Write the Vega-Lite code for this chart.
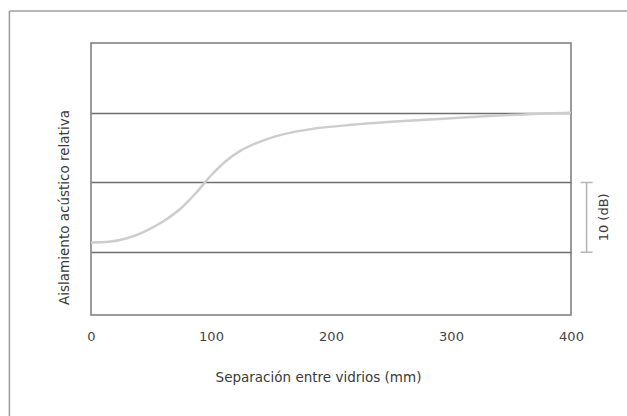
{
  "$schema": "https://vega.github.io/schema/vega-lite/v6.json",
  "width": 480,
  "height": 272,
  "autosize": "none",
  "padding": {"left": 91, "top": 43, "right": 56, "bottom": 101},
  "background": "white",
  "config": {
    "view": {"stroke": "#7a7a7a", "strokeWidth": 1.5},
    "font": "DejaVu Sans"
  },
  "datasets": {
    "curve": [
      {"sep": 0, "db": 11.4},
      {"sep": 15, "db": 11.5},
      {"sep": 30, "db": 12.0},
      {"sep": 45, "db": 13.0},
      {"sep": 60, "db": 14.4},
      {"sep": 75, "db": 16.3},
      {"sep": 88, "db": 18.6},
      {"sep": 100, "db": 21.0},
      {"sep": 112, "db": 23.0},
      {"sep": 125, "db": 24.6},
      {"sep": 140, "db": 25.8},
      {"sep": 160, "db": 26.9},
      {"sep": 185, "db": 27.7},
      {"sep": 220, "db": 28.3},
      {"sep": 260, "db": 28.8},
      {"sep": 300, "db": 29.2},
      {"sep": 340, "db": 29.6},
      {"sep": 380, "db": 29.9},
      {"sep": 400, "db": 30.0}
    ],
    "scale_bar": [{"low": 10, "high": 20, "label": "10 (dB)"}],
    "border": [{"left": -68, "right": 450, "top": 44.6, "bottom": -15}]
  },
  "layer": [
    {
      "data": {"name": "curve"},
      "mark": {"type": "line", "interpolate": "monotone", "color": "#cdcdcd", "strokeWidth": 2.5},
      "encoding": {
        "x": {
          "field": "sep",
          "type": "quantitative",
          "scale": {"domain": [0, 400], "nice": false},
          "axis": {
            "values": [0, 100, 200, 300, 400],
            "title": "Separación entre vidrios (mm)",
            "grid": false,
            "domain": false,
            "ticks": false,
            "labelPadding": 15,
            "labelFont": "DejaVu Sans",
            "labelFontSize": 13,
            "labelColor": "#444444",
            "labelFlush": false,
            "titleFont": "DejaVu Sans",
            "titleFontSize": 13.5,
            "titleFontWeight": "normal",
            "titleColor": "#3a3a3a",
            "titleX": 227,
            "titleY": 66,
            "titleBaseline": "alphabetic"
          }
        },
        "y": {
          "field": "db",
          "type": "quantitative",
          "scale": {"domain": [1, 40], "nice": false, "zero": false},
          "axis": {
            "values": [10, 20, 30],
            "title": "Aislamiento acústico relativa",
            "labels": false,
            "ticks": false,
            "domain": false,
            "grid": true,
            "gridColor": "#6e6e6e",
            "gridWidth": 1.5,
            "gridOpacity": 1,
            "titleFont": "DejaVu Sans",
            "titleFontSize": 13.5,
            "titleFontWeight": "normal",
            "titleColor": "#3a3a3a",
            "titleX": -23,
            "titleY": 164,
            "titleAlign": "center",
            "titleBaseline": "alphabetic",
            "titleAngle": -90
          }
        }
      }
    },
    {
      "data": {"name": "scale_bar"},
      "mark": {"type": "rule", "color": "#b5b5b5", "strokeWidth": 1.5},
      "encoding": {
        "x": {"datum": 413},
        "y": {"field": "low", "type": "quantitative"},
        "y2": {"field": "high"}
      }
    },
    {
      "data": {"name": "scale_bar"},
      "mark": {"type": "rule", "color": "#b5b5b5", "strokeWidth": 1.5},
      "encoding": {
        "x": {"datum": 408},
        "x2": {"datum": 418},
        "y": {"field": "low", "type": "quantitative"}
      }
    },
    {
      "data": {"name": "scale_bar"},
      "mark": {"type": "rule", "color": "#b5b5b5", "strokeWidth": 1.5},
      "encoding": {
        "x": {"datum": 408},
        "x2": {"datum": 418},
        "y": {"field": "high", "type": "quantitative"}
      }
    },
    {
      "data": {"name": "scale_bar"},
      "transform": [{"calculate": "(datum.low + datum.high) / 2", "as": "mid"}],
      "mark": {"type": "text", "angle": 270, "align": "center", "baseline": "middle", "font": "DejaVu Sans", "fontSize": 13, "color": "#3a3a3a"},
      "encoding": {
        "x": {"datum": 427.5},
        "y": {"field": "mid", "type": "quantitative"},
        "text": {"field": "label"}
      }
    },
    {
      "data": {"name": "border"},
      "mark": {"type": "rule", "color": "#9a9a9a", "strokeWidth": 1.5},
      "encoding": {
        "x": {"field": "left", "type": "quantitative"},
        "y": {"field": "top", "type": "quantitative"},
        "y2": {"field": "bottom"}
      }
    },
    {
      "data": {"name": "border"},
      "mark": {"type": "rule", "color": "#a0a0a0", "strokeWidth": 1.5},
      "encoding": {
        "x": {"field": "left", "type": "quantitative"},
        "x2": {"field": "right"},
        "y": {"field": "top", "type": "quantitative"}
      }
    }
  ]
}
